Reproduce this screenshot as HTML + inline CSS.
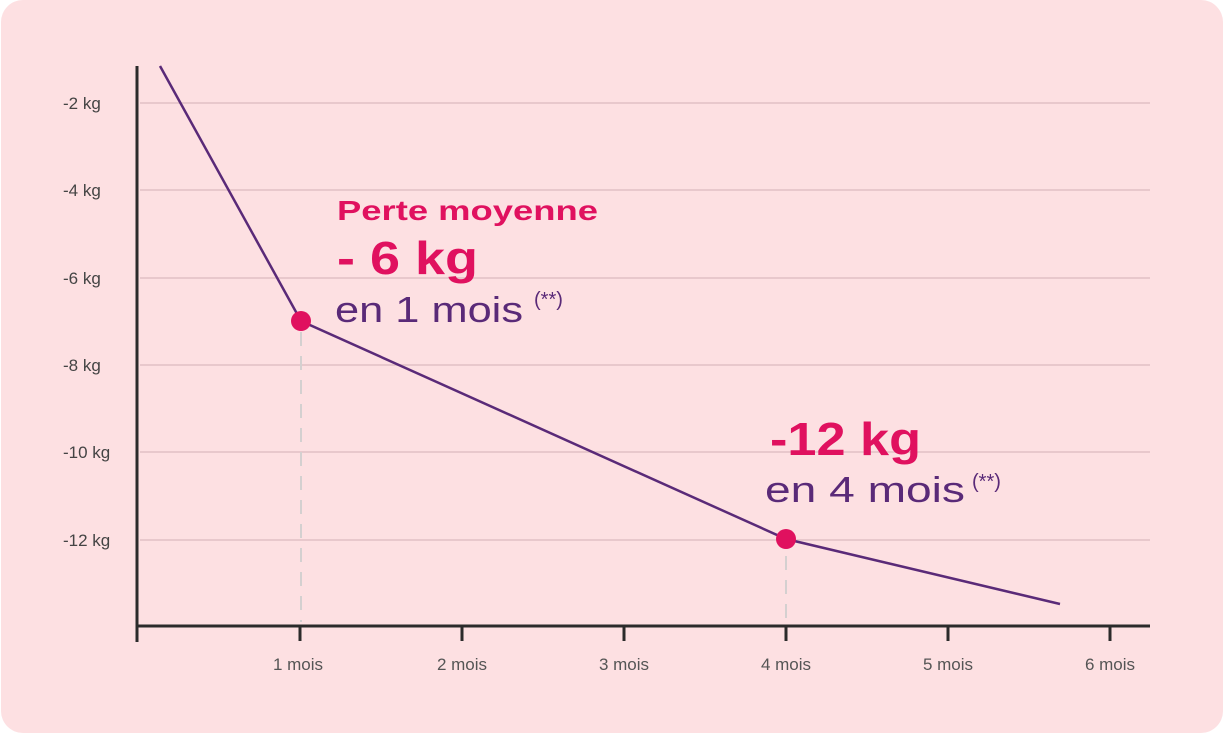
<!DOCTYPE html>
<html><head><meta charset="utf-8"><style>
body{margin:0;background:#fff;width:1224px;height:734px;overflow:hidden}
svg{display:block}
text{font-family:"Liberation Sans",sans-serif}
</style></head><body>
<svg width="1224" height="734" viewBox="0 0 1224 734">
<rect x="1" y="0" width="1222" height="733" rx="22" fill="#fde0e2"/>
<g stroke="#e8c8cc" stroke-width="2">
<line x1="140" y1="103" x2="1150" y2="103"/>
<line x1="140" y1="190" x2="1150" y2="190"/>
<line x1="140" y1="278" x2="1150" y2="278"/>
<line x1="140" y1="365" x2="1150" y2="365"/>
<line x1="140" y1="452" x2="1150" y2="452"/>
<line x1="140" y1="540" x2="1150" y2="540"/>
</g>
<g stroke="#d4d0d0" stroke-width="2" stroke-dasharray="14,10">
<line x1="301" y1="332" x2="301" y2="622"/>
<line x1="786" y1="556" x2="786" y2="622"/>
</g>
<g stroke="#2b2b2b" stroke-width="3">
<line x1="137" y1="66" x2="137" y2="642"/>
<line x1="137" y1="626" x2="1150" y2="626"/>
<line x1="300" y1="626" x2="300" y2="641"/>
<line x1="462" y1="626" x2="462" y2="641"/>
<line x1="624" y1="626" x2="624" y2="641"/>
<line x1="786" y1="626" x2="786" y2="641"/>
<line x1="948" y1="626" x2="948" y2="641"/>
<line x1="1110" y1="626" x2="1110" y2="641"/>
</g>
<polyline points="160,66 301,321 786,539 1060,604" fill="none" stroke="#5a2a78" stroke-width="2.5"/>
<circle cx="301" cy="321" r="10" fill="#e0115f"/>
<circle cx="786" cy="539" r="10" fill="#e0115f"/>
<g fill="#444" font-size="17">
<text x="63" y="109">-2 kg</text>
<text x="63" y="196">-4 kg</text>
<text x="63" y="284">-6 kg</text>
<text x="63" y="371">-8 kg</text>
<text x="63" y="458">-10 kg</text>
<text x="63" y="546">-12 kg</text>
</g>
<g fill="#555" font-size="17" text-anchor="middle">
<text x="298" y="670">1 mois</text>
<text x="462" y="670">2 mois</text>
<text x="624" y="670">3 mois</text>
<text x="786" y="670">4 mois</text>
<text x="948" y="670">5 mois</text>
<text x="1110" y="670">6 mois</text>
</g>
<text x="337" y="220" fill="#e0115f" font-size="28" font-weight="bold" textLength="261" lengthAdjust="spacingAndGlyphs">Perte moyenne</text>
<text x="337" y="274" fill="#e0115f" font-size="46" font-weight="bold" textLength="141" lengthAdjust="spacingAndGlyphs">- 6 kg</text>
<text x="335" y="322" fill="#5a2a78" font-size="36" textLength="188" lengthAdjust="spacingAndGlyphs">en 1 mois</text>
<text x="534" y="306" fill="#5a2a78" font-size="20">(**)</text>
<text x="770" y="455" fill="#e0115f" font-size="46" font-weight="bold" textLength="151" lengthAdjust="spacingAndGlyphs">-12 kg</text>
<text x="765" y="502" fill="#5a2a78" font-size="36" textLength="200" lengthAdjust="spacingAndGlyphs">en 4 mois</text>
<text x="972" y="488" fill="#5a2a78" font-size="20">(**)</text>
</svg>
</body></html>
